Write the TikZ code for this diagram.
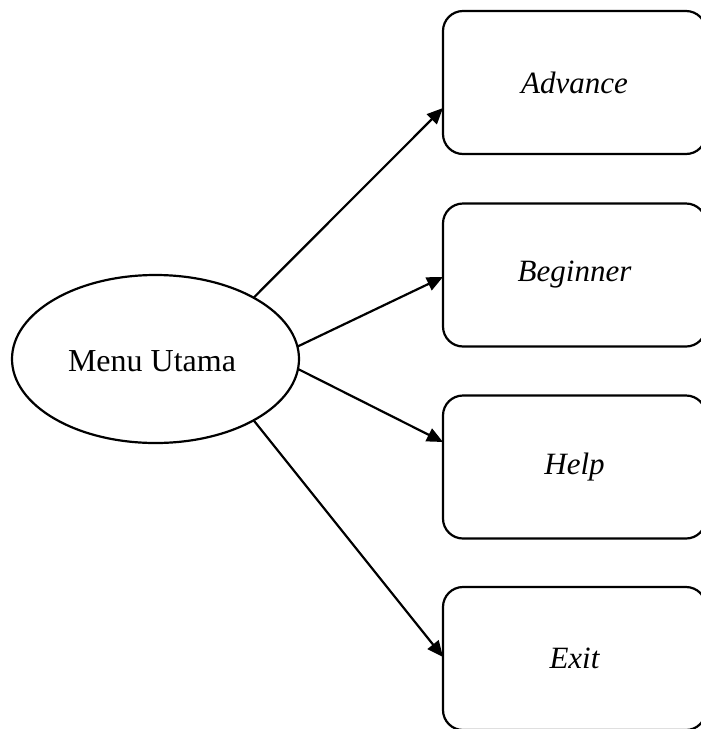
\documentclass[tikz,border=0pt]{standalone}
\usepackage{fontspec}
\setmainfont{Liberation Serif}
\usetikzlibrary{arrows.meta,shapes.geometric}
\begin{document}
\begin{tikzpicture}[x=1pt,y=1pt,
  line width=2.2pt,
  every node/.style={font=\fontsize{32}{38}\selectfont},
  hub/.style={draw,ellipse,minimum width=287pt,minimum height=168pt,inner sep=0pt,outer sep=0pt},
  option/.style={draw,rectangle,rounded corners=20pt,minimum width=263pt,minimum height=143pt,inner sep=0pt,outer sep=0pt,font=\fontsize{31}{36}\selectfont\itshape},
  link/.style={-{Triangle[length=16pt,width=14pt]}}]
\useasboundingbox (0,0) rectangle (701,-729);

% main menu
\node[hub] (menu) at (155.5,-359) {};
\node at (152,-361) {Menu Utama};

% menu options
\node[option] (adv) at (574.5,-82.5) {Advance};
\node[option] (beg) at (574.5,-275) {Beginner};
\node[option] (hlp) at (574.5,-467) {Help};
\node[option] (ext) at (574.5,-658.5) {Exit};

% connectors
\draw[link] (menu.32.7) -- ([yshift=-25.5pt]adv.west);
\draw[link] (menu.5.2) -- ([yshift=-2pt]beg.west);
\draw[link] (menu.-4.8) -- ([yshift=25pt]hlp.west);
\draw[link] (menu.-32.3) -- ([yshift=1.5pt]ext.west);
\end{tikzpicture}
\end{document}
